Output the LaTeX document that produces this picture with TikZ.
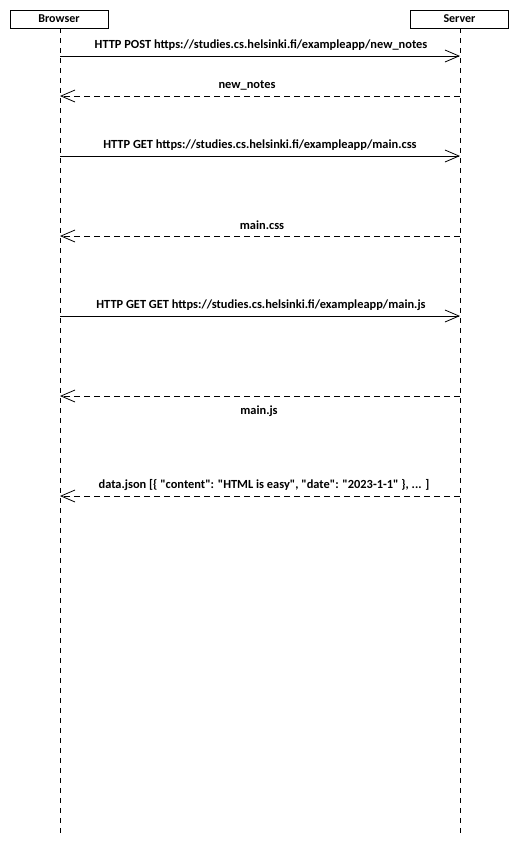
\documentclass[tikz,border=0pt]{standalone}
\usepackage{fontspec}
\setmainfont{Carlito}
\usetikzlibrary{arrows.meta}
\begin{document}
\begin{tikzpicture}[x=1pt,y=-1pt,
  actor/.style={draw,line width=0.8pt,minimum width=98pt,minimum height=18pt,inner sep=0pt,font=\bfseries\fontsize{12}{13}\selectfont},
  life/.style={line width=0.8pt,dash pattern=on 5pt off 5pt},
  msg/.style={line width=0.8pt,-{Straight Barb[length=14pt,width=12pt,line width=0.8pt]}},
  ret/.style={msg,dash pattern=on 6pt off 4pt},
  lbl/.style={font=\bfseries\fontsize{12.4}{13}\selectfont,inner sep=0pt}]
\useasboundingbox (0,0) rectangle (520,847);
\node[actor] (b) at (59,19) {Browser};
\node[actor] (s) at (459.5,19) {Server};
\coordinate (be) at (60,833);
\coordinate (se) at (460,833);
\draw[life] (b.south -| be) -- (be);
\draw[life] (s.south -| se) -- (se);
\foreach \n/\y in {1/56,2/96,3/156,4/236,5/316,6/396,7/496}{
  \coordinate (b\n) at (60,\y);
  \coordinate (s\n) at (460,\y);
}
\draw[msg] (b1) -- (s1);
\node[lbl] (l1) at (261,45) {HTTP POST https://studies.cs.helsinki.fi/exampleapp/new\_notes};
\draw[ret] (s2) -- (b2);
\node[lbl] (l2) at (247,85) {new\_notes};
\draw[msg] (b3) -- (s3);
\node[lbl] (l3) at (260,145) {HTTP GET https://studies.cs.helsinki.fi/exampleapp/main.css};
\draw[ret] (s4) -- (b4);
\node[lbl] (l4) at (262,225) {main.css};
\draw[msg] (b5) -- (s5);
\node[lbl] (l5) at (261,305) {HTTP GET GET https://studies.cs.helsinki.fi/exampleapp/main.js};
\draw[ret] (s6) -- (b6);
\node[lbl] (l6) at (259,411) {main.js};
\draw[ret] (s7) -- (b7);
\node[lbl] (l7) at (264,485) {data.json [\{ \textquotedbl content\textquotedbl: \textquotedbl HTML is easy\textquotedbl, \textquotedbl date\textquotedbl: \textquotedbl 2023-1-1\textquotedbl\ \}, ... ]};
\end{tikzpicture}
\end{document}
